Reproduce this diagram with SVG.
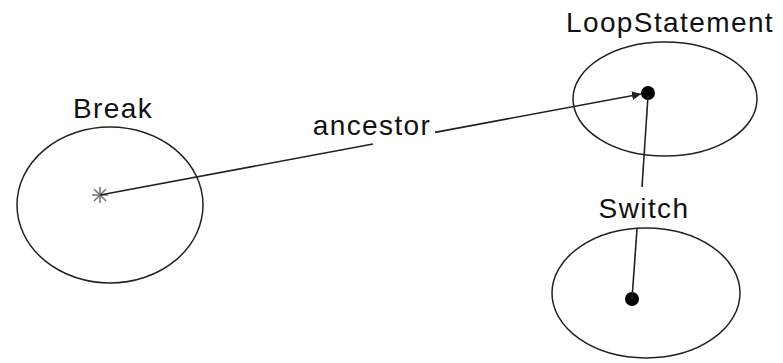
<svg xmlns="http://www.w3.org/2000/svg" width="783" height="363" viewBox="0 0 783 363">
<defs>
<style>
.node{fill:none;stroke:#222;stroke-width:1.5}
.lbl{font-family:"Liberation Sans",Arial,sans-serif;font-size:28px;letter-spacing:1.4px;fill:#111;text-anchor:middle}
.edge{stroke:#222;stroke-width:1.6;fill:none}
.dot{fill:#000}
</style>
<marker id="arr" viewBox="0 0 10 10" refX="10" refY="5" markerWidth="9" markerHeight="9" markerUnits="userSpaceOnUse" orient="auto">
<path d="M0,0 L10,5 L0,10 Z" fill="#222"/>
</marker>
</defs>
<rect width="783" height="363" fill="#fff"/>
<g id="Break">
<ellipse class="node" cx="110" cy="205" rx="93" ry="78"/>
<text class="lbl" x="113" y="118">Break</text>
<g stroke="#777" stroke-width="1.6">
<line x1="92" y1="195" x2="108" y2="195"/>
<line x1="100" y1="187" x2="100" y2="203"/>
<line x1="94" y1="189" x2="106" y2="201"/>
<line x1="94" y1="201" x2="106" y2="189"/>
</g>
</g>
<g id="LoopStatement">
<ellipse class="node" cx="665" cy="99" rx="92" ry="57"/>
<text class="lbl" x="670" y="32">LoopStatement</text>
<circle class="dot" cx="648" cy="93" r="7"/>
</g>
<g id="Switch">
<ellipse class="node" cx="646" cy="293" rx="94" ry="65"/>
<text class="lbl" x="644" y="218">Switch</text>
<circle class="dot" cx="632" cy="299" r="7"/>
</g>
<g id="connectors">
<line class="edge" x1="100" y1="195" x2="373" y2="144"/>
<line class="edge" x1="435" y1="132.4" x2="641" y2="94" marker-end="url(#arr)"/>
<text class="lbl" x="372" y="135">ancestor</text>
<line class="edge" x1="632" y1="299" x2="637" y2="229"/>
<line class="edge" x1="642" y1="187" x2="648" y2="96"/>
</g>
</svg>
